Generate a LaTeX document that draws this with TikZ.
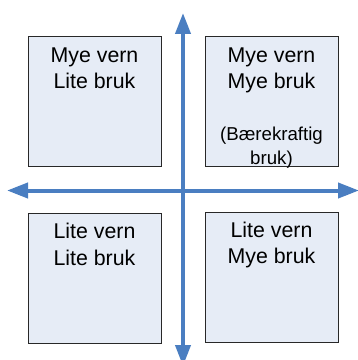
\documentclass[tikz,border=0pt]{standalone}
\usepackage{fontspec}
\setmainfont{Liberation Sans}
\usetikzlibrary{arrows.meta}
\definecolor{axisblue}{RGB}{74,126,193}
\definecolor{boxfill}{RGB}{230,236,246}
\definecolor{boxline}{RGB}{40,40,40}
\begin{document}
\begin{tikzpicture}[x=0.75pt,y=-0.75pt,
  quad/.style={draw=boxline,line width=0.8pt,fill=boxfill,minimum width=99.75pt,minimum height=97.5pt,inner sep=0pt,anchor=north west},
  lbl/.style={font=\fontsize{16}{19}\selectfont,anchor=base,inner sep=0pt},
  small/.style={font=\fontsize{14}{17}\selectfont,anchor=base,inner sep=0pt},
  axis/.style={draw=axisblue,line width=3pt,{Triangle[length=15.75pt,width=11.25pt]}-{Triangle[length=15.75pt,width=11.25pt]}}]
\useasboundingbox (0,0) rectangle (357,360);
\node[quad] (tl) at (28,36) {};
\node[quad] (tr) at (205,36) {};
\node[quad] (bl) at (28,213) {};
\node[quad] (br) at (205,212) {};
\node[lbl] (tl1) at (94.5,62.5) {Mye vern};
\node[lbl] (tl2) at (94.5,89) {Lite bruk};
\node[lbl] (tr1) at (271.5,62.5) {Mye vern};
\node[lbl] (tr2) at (271.5,89) {Mye bruk};
\node[small] (tr3) at (271.5,140.5) {(Bærekraftig};
\node[small] (tr4) at (271.5,164) {bruk)};
\node[lbl] (bl1) at (94.5,238.5) {Lite vern};
\node[lbl] (bl2) at (94.5,265) {Lite bruk};
\node[lbl] (br1) at (271.5,237.5) {Lite vern};
\node[lbl] (br2) at (271.5,263) {Mye bruk};
\coordinate (top) at (183,13);
\coordinate (bottom) at (183,366);
\coordinate (left) at (7,190.5);
\coordinate (right) at (359,190.5);
\draw[axis] (left) -- (right);
\draw[axis] (bottom) -- (top);
\end{tikzpicture}
\end{document}
